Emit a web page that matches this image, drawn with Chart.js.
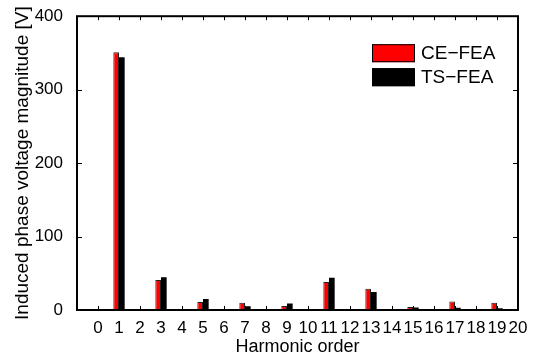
<!DOCTYPE html>
<html>
<head>
<meta charset="utf-8">
<script src="https://cdn.jsdelivr.net/npm/chart.js@4/dist/chart.umd.min.js"></script>
<style>
  html, body { margin: 0; padding: 0; background: #fff; }
  #wrap { width: 540px; height: 360px; }
</style>
</head>
<body>
<div id="wrap"><canvas id="c" width="540" height="360"></canvas></div>
<script>
// Harmonic order of each bar group
const harmonics = [0, 1, 2, 3, 4, 5, 6, 7, 8, 9, 10, 11, 12, 13, 14, 15, 16, 17, 18, 19, 20];
// Induced phase voltage magnitude [V], CE-FEA
const ceFea = [0, 351, 0, 41, 0, 11, 0, 10, 0, 5.5, 0, 38, 0, 29, 0, 4, 0, 11.5, 0, 10, 0];
// Induced phase voltage magnitude [V], TS-FEA
const tsFea = [0, 344, 0, 44.5, 0, 15, 0, 5, 0, 9, 0, 44, 0, 24.5, 0, 3.5, 0, 3, 0, 2.5, 0];
// Value-axis ticks
const yTicks = [0, 100, 200, 300, 400];

const FONT = "'Liberation Sans', Arial, Helvetica, sans-serif";

// One empty slot before harmonic 0 so the axis spans -1 .. 20
const xLabels = [''].concat(harmonics.map(String));
const pad = arr => [null].concat(arr);

// Box frame with inward tick marks on all four sides, plus every
// harmonic label under the axis (the labels touch, so none may be dropped)
const framePlugin = {
  id: 'frame',
  afterDraw(chart) {
    const { ctx, chartArea: a, scales } = chart;
    ctx.save();
    ctx.strokeStyle = '#000';
    ctx.lineWidth = 1;
    const tx = 4, ty = 5;
    ctx.beginPath();
    for (let i = 0; i < xLabels.length; i++) {
      const px = Math.round(scales.x.getPixelForValue(i)) + 0.5;
      ctx.moveTo(px, a.bottom); ctx.lineTo(px, a.bottom - tx);
      ctx.moveTo(px, a.top); ctx.lineTo(px, a.top + tx);
    }
    yTicks.forEach(v => {
      const py = Math.round(scales.y.getPixelForValue(v)) + 0.5;
      ctx.moveTo(a.left, py); ctx.lineTo(a.left + ty, py);
      ctx.moveTo(a.right, py); ctx.lineTo(a.right - ty, py);
    });
    ctx.stroke();
    ctx.lineWidth = 2;
    ctx.strokeRect(a.left, a.top, a.right - a.left, a.bottom - a.top);

    ctx.fillStyle = '#000';
    ctx.font = '17px ' + FONT;
    ctx.textAlign = 'center';
    ctx.textBaseline = 'alphabetic';
    xLabels.forEach((t, i) => {
      if (t) ctx.fillText(t, scales.x.getPixelForValue(i), a.bottom + 23);
    });
    ctx.restore();
  }
};

// Legend inside the plot, upper right
const insideLegend = {
  id: 'insideLegend',
  afterDraw(chart) {
    const { ctx, chartArea: a } = chart;
    const x0 = a.right - 146, y0 = a.top + 28;
    const bw = 43, bh = 18, gap = 24;
    ctx.save();
    ctx.font = '19px ' + FONT;
    ctx.textBaseline = 'middle';
    ctx.textAlign = 'left';
    chart.data.datasets.forEach((ds, i) => {
      const y = y0 + i * gap;
      ctx.fillStyle = ds.backgroundColor;
      ctx.fillRect(x0, y, bw, bh);
      ctx.strokeStyle = '#000';
      ctx.lineWidth = 1;
      ctx.strokeRect(x0 + 0.5, y + 0.5, bw - 1, bh - 1);
      ctx.fillStyle = '#000';
      ctx.fillText(ds.label, x0 + bw + 6, y + bh / 2 + 1);
    });
    ctx.restore();
  }
};

new Chart(document.getElementById('c'), {
  type: 'bar',
  data: {
    labels: xLabels,
    datasets: [
      {
        label: 'CE\u2212FEA',
        data: pad(ceFea),
        backgroundColor: '#ff0000',
        borderColor: '#222',
        borderWidth: 1,
        borderSkipped: 'start'
      },
      {
        label: 'TS\u2212FEA',
        data: pad(tsFea),
        backgroundColor: '#000000',
        borderColor: '#000',
        borderWidth: 0
      }
    ]
  },
  options: {
    responsive: false,
    animation: false,
    events: [],
    categoryPercentage: 0.54,
    barPercentage: 1.0,
    layout: { padding: { top: 16, right: 22, left: 0, bottom: 0 } },
    plugins: { legend: { display: false }, tooltip: { enabled: false } },
    scales: {
      x: {
        type: 'category',
        offset: false,
        grid: { display: false, offset: false },
        border: { display: false },
        afterFit(scale) { scale.height = 50; },
        ticks: { display: false },
        title: {
          display: true,
          text: 'Harmonic order',
          color: '#000',
          font: { family: FONT, size: 18 },
          padding: { top: 0, bottom: 2 }
        }
      },
      y: {
        min: 0,
        max: 400,
        grid: { display: false },
        border: { display: false },
        afterFit(scale) { scale.width = 77; },
        afterBuildTicks(scale) {
          scale.ticks = yTicks.map(v => ({ value: v }));
        },
        ticks: {
          padding: 6,
          color: '#000',
          font: { family: FONT, size: 17 }
        },
        title: {
          display: true,
          text: 'Induced phase voltage magnitude [V]',
          color: '#000',
          font: { family: FONT, size: 19 },
          padding: { top: 11, bottom: 0 }
        }
      }
    }
  },
  plugins: [framePlugin, insideLegend]
});
</script>
</body>
</html>
